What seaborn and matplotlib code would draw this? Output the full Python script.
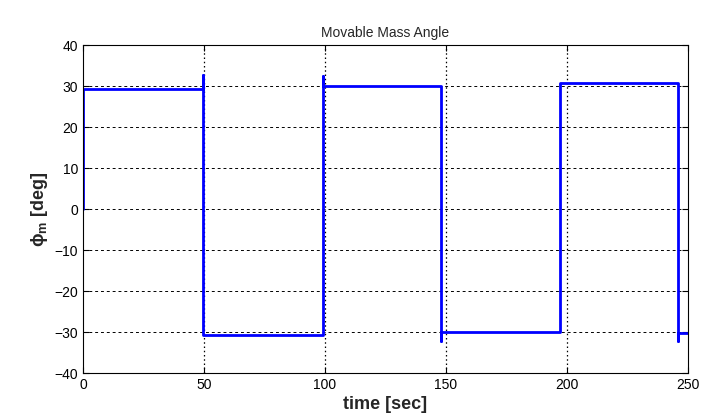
import numpy as np
import pandas as pd
import matplotlib
matplotlib.use("Agg")
import matplotlib.pyplot as plt
import seaborn as sns

sns.set_style("white")
plt.rcParams['font.family'] = ['Liberation Sans', 'DejaVu Sans']
plt.rcParams['mathtext.fontset'] = 'custom'
plt.rcParams['mathtext.rm'] = 'Liberation Sans'
plt.rcParams['mathtext.it'] = 'Liberation Sans:italic'
plt.rcParams['mathtext.bf'] = 'Liberation Sans:bold'

# step signal of the movable mass angle (switch times in sec, angle in deg)
time_sec = [0, 0, 49.7, 49.7, 49.7, 99.3, 99.3, 99.3, 147.8, 147.8, 147.8,
            197.1, 197.1, 245.9, 245.9, 245.9, 250]
phi_deg = [0, 29.3, 29.3, 32.7, -30.7, -30.7, 32.4, 30.1, 30.1, -32.2, -30.0,
           -30.0, 30.8, 30.8, -32.3, -30.3, -30.3]
x_ticks = [0, 50, 100, 150, 200, 250]
y_ticks = [-40, -30, -20, -10, 0, 10, 20, 30, 40]

df = pd.DataFrame({'t': time_sec, 'phi': phi_deg})

fig = plt.figure(figsize=(7.14, 4.17), dpi=100)
ax = fig.add_axes([0.1162, 0.1055, 0.8474, 0.7865])

sns.lineplot(data=df, x='t', y='phi', sort=False, estimator=None,
             color='#0000ff', linewidth=2.0, ax=ax)

ax.set_xlim(0, 250)
ax.set_ylim(-40, 40)
ax.set_xticks(x_ticks)
ax.set_yticks(y_ticks)
ax.tick_params(direction='in', length=4, width=0.8, labelsize=10,
               colors='black', top=True, right=True, bottom=True, left=True)
for s in ax.spines.values():
    s.set_color('black')
    s.set_linewidth(0.8)

for xv in x_ticks[1:-1]:
    ax.axvline(xv, color='black', linestyle=(0, (1.2, 2.2)), linewidth=0.9, zorder=0)
for yv in y_ticks[1:-1]:
    ax.axhline(yv, color='black', linestyle=(0, (3, 3)), linewidth=0.7, zorder=0)

ax.set_title('Movable Mass Angle', fontsize=10, pad=6)
ax.set_xlabel('time [sec]', fontsize=13, fontweight='bold', labelpad=3)
ax.set_ylabel(r'$\mathbf{\phi_m}$ [deg]', fontsize=13, fontweight='bold', labelpad=3)

fig.savefig('out.png', dpi=100)
